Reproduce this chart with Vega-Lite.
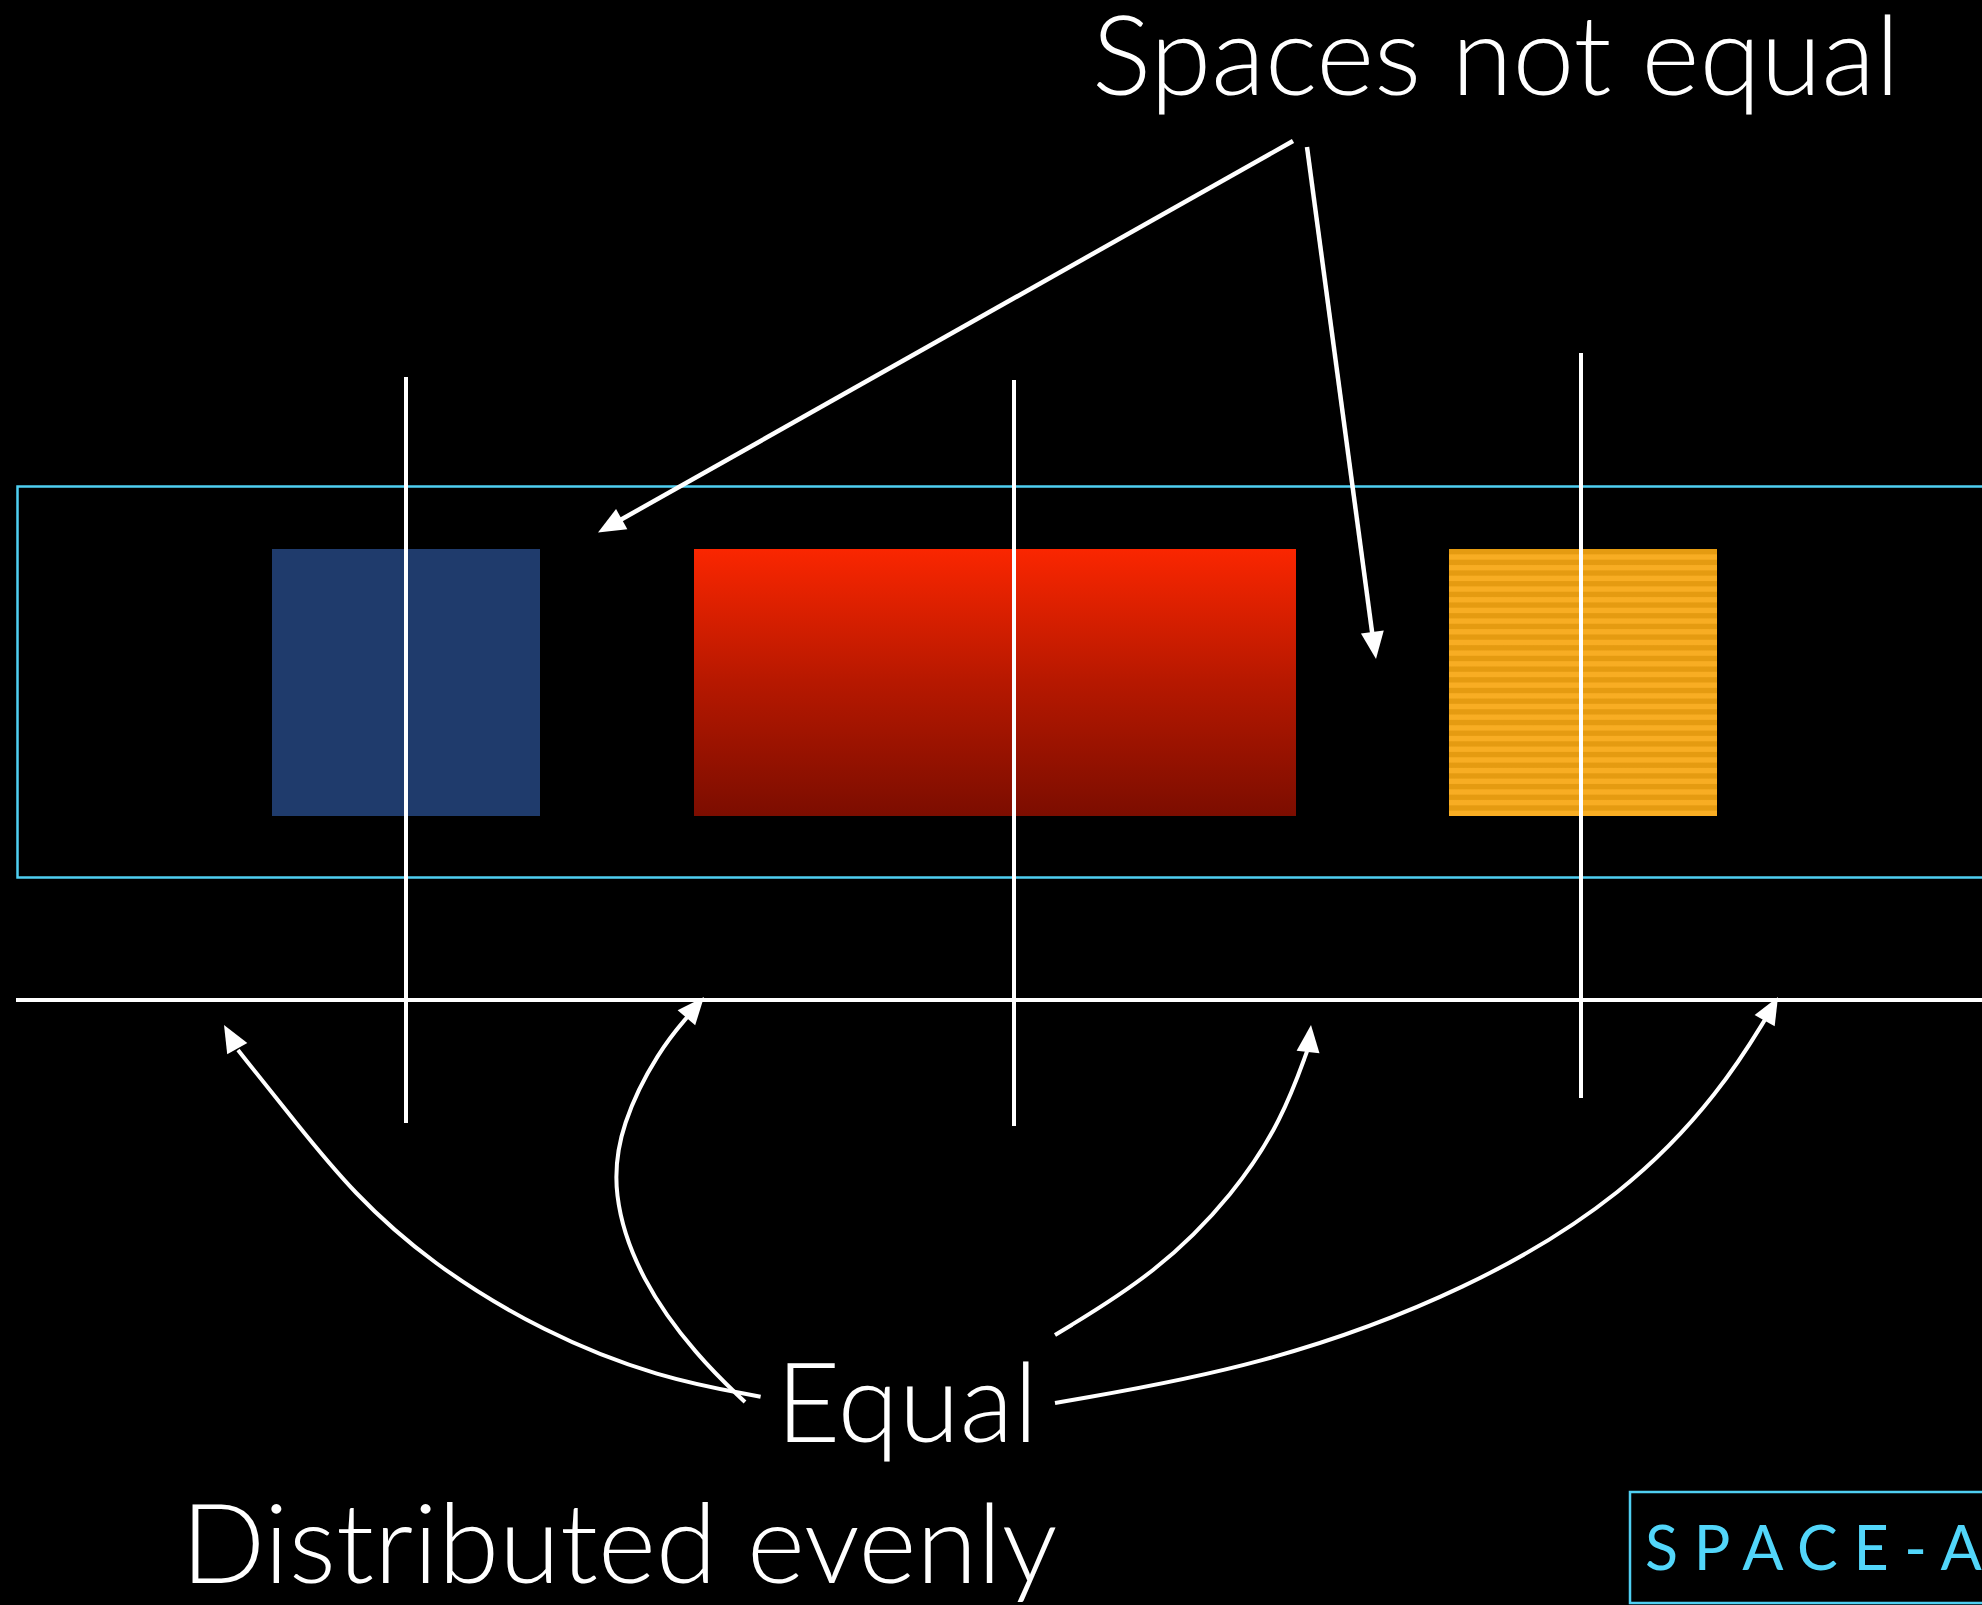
{
  "$schema": "https://vega.github.io/schema/vega-lite/v6.json",
  "width": 1982,
  "height": 1605,
  "autosize": {"type": "none"},
  "padding": 0,
  "background": "#000000",
  "config": {"view": {"stroke": null}},
  "datasets": {
    "frames": [
      {"name": "group", "x": 17.5, "x2": 2010, "y": 486.5, "y2": 877.5},
      {"name": "label", "x": 1630, "x2": 2010, "y": 1492, "y2": 1603}
    ],
    "blue": [{"name": "blue", "x": 272, "x2": 540, "y": 549, "y2": 816}],
    "red": [{"name": "red", "x": 694, "x2": 1296, "y": 549, "y2": 816}],
    "orange": [{"name": "orange", "x": 1449, "x2": 1717, "y": 549, "y2": 816}],
    "guides": [
      {"name": "v1", "x": 406, "x2": 406, "y": 377, "y2": 1123},
      {"name": "v2", "x": 1014, "x2": 1014, "y": 380, "y2": 1126},
      {"name": "v3", "x": 1581, "x2": 1581, "y": 353, "y2": 1098},
      {"name": "base", "x": 16, "x2": 2010, "y": 1000, "y2": 1000}
    ],
    "pointers": [
      {"name": "a1", "x": 1293, "x2": 615, "y": 141, "y2": 523},
      {"name": "a2", "x": 1307, "x2": 1373, "y": 147, "y2": 639}
    ],
    "curves": [
      {"curve": "A", "i": 0, "x": 760.6, "y": 1396.7},
      {"curve": "A", "i": 1, "x": 659, "y": 1378},
      {"curve": "A", "i": 2, "x": 544, "y": 1333},
      {"curve": "A", "i": 3, "x": 430, "y": 1263},
      {"curve": "A", "i": 4, "x": 353, "y": 1193},
      {"curve": "A", "i": 5, "x": 296, "y": 1123},
      {"curve": "A", "i": 6, "x": 238, "y": 1050},
      {"curve": "B", "i": 0, "x": 745, "y": 1402},
      {"curve": "B", "i": 1, "x": 697.5, "y": 1357},
      {"curve": "B", "i": 2, "x": 640, "y": 1280},
      {"curve": "B", "i": 3, "x": 611, "y": 1193},
      {"curve": "B", "i": 4, "x": 621, "y": 1123},
      {"curve": "B", "i": 5, "x": 659, "y": 1050},
      {"curve": "B", "i": 6, "x": 689, "y": 1015},
      {"curve": "C", "i": 0, "x": 1055, "y": 1335},
      {"curve": "C", "i": 1, "x": 1157, "y": 1273},
      {"curve": "C", "i": 2, "x": 1235, "y": 1193},
      {"curve": "C", "i": 3, "x": 1282, "y": 1120},
      {"curve": "C", "i": 4, "x": 1308.6, "y": 1047},
      {"curve": "D", "i": 0, "x": 1055, "y": 1403},
      {"curve": "D", "i": 1, "x": 1261.5, "y": 1367},
      {"curve": "D", "i": 2, "x": 1471, "y": 1290},
      {"curve": "D", "i": 3, "x": 1627.6, "y": 1193},
      {"curve": "D", "i": 4, "x": 1722, "y": 1090},
      {"curve": "D", "i": 5, "x": 1769, "y": 1013}
    ],
    "heads": [
      {"name": "a1", "x": 598, "y": 532.5, "angle": 240.6},
      {"name": "a2", "x": 1376, "y": 659, "angle": 172.3},
      {"name": "A", "x": 224, "y": 1025, "angle": 330.8},
      {"name": "B", "x": 704, "y": 997, "angle": 40.3},
      {"name": "C", "x": 1311, "y": 1025, "angle": 6.2},
      {"name": "D", "x": 1778, "y": 997, "angle": 29.4}
    ],
    "labels": [
      {"text": "Spaces not equal", "x": 1092, "y": 95},
      {"text": "Equal", "x": 776, "y": 1442},
      {"text": "Distributed evenly", "x": 181, "y": 1583}
    ],
    "tag": [{"text": "S P A C E - A", "x": 1645, "y": 1570}]
  },
  "layer": [
    {
      "data": {"name": "blue"},
      "mark": {"type": "rect", "fill": "#1F3B6C"},
      "encoding": {
        "x": {"field": "x", "type": "quantitative", "scale": {"domain": [0, 1982], "nice": false, "zero": false}, "axis": null},
        "x2": {"field": "x2"},
        "y": {"field": "y", "type": "quantitative", "scale": {"domain": [0, 1605], "nice": false, "zero": false, "reverse": true}, "axis": null},
        "y2": {"field": "y2"}
      }
    },
    {
      "data": {"name": "red"},
      "mark": {"type": "rect", "fill": {"gradient": "linear", "x1": 0, "y1": 0, "x2": 0, "y2": 1, "stops": [
        {"offset": 0, "color": "#FA2600"},
        {"offset": 0.5, "color": "#B61800"},
        {"offset": 1, "color": "#7C0D00"}
      ]}},
      "encoding": {
        "x": {"field": "x", "type": "quantitative", "scale": {"domain": [0, 1982], "nice": false, "zero": false}, "axis": null},
        "x2": {"field": "x2"},
        "y": {"field": "y", "type": "quantitative", "scale": {"domain": [0, 1605], "nice": false, "zero": false, "reverse": true}, "axis": null},
        "y2": {"field": "y2"}
      }
    },
    {
      "data": {"name": "orange"},
      "mark": {"type": "rect", "fill": {"gradient": "linear", "x1": 0, "y1": 0, "x2": 0, "y2": 1, "stops": [
        {"offset": 0, "color": "#E59B11"},
        {"offset": 0.018, "color": "#E59B11"}, {"offset": 0.022, "color": "#F8AD23"}, {"offset": 0.038, "color": "#F8AD23"}, {"offset": 0.042, "color": "#E59B11"},
        {"offset": 0.058, "color": "#E59B11"}, {"offset": 0.062, "color": "#F8AD23"}, {"offset": 0.078, "color": "#F8AD23"}, {"offset": 0.082, "color": "#E59B11"},
        {"offset": 0.098, "color": "#E59B11"}, {"offset": 0.102, "color": "#F8AD23"}, {"offset": 0.118, "color": "#F8AD23"}, {"offset": 0.122, "color": "#E59B11"},
        {"offset": 0.138, "color": "#E59B11"}, {"offset": 0.142, "color": "#F8AD23"}, {"offset": 0.158, "color": "#F8AD23"}, {"offset": 0.162, "color": "#E59B11"},
        {"offset": 0.178, "color": "#E59B11"}, {"offset": 0.182, "color": "#F8AD23"}, {"offset": 0.198, "color": "#F8AD23"}, {"offset": 0.202, "color": "#E59B11"},
        {"offset": 0.218, "color": "#E59B11"}, {"offset": 0.222, "color": "#F8AD23"}, {"offset": 0.238, "color": "#F8AD23"}, {"offset": 0.242, "color": "#E59B11"},
        {"offset": 0.258, "color": "#E59B11"}, {"offset": 0.262, "color": "#F8AD23"}, {"offset": 0.278, "color": "#F8AD23"}, {"offset": 0.282, "color": "#E59B11"},
        {"offset": 0.298, "color": "#E59B11"}, {"offset": 0.302, "color": "#F8AD23"}, {"offset": 0.318, "color": "#F8AD23"}, {"offset": 0.322, "color": "#E59B11"},
        {"offset": 0.338, "color": "#E59B11"}, {"offset": 0.342, "color": "#F8AD23"}, {"offset": 0.358, "color": "#F8AD23"}, {"offset": 0.362, "color": "#E59B11"},
        {"offset": 0.378, "color": "#E59B11"}, {"offset": 0.382, "color": "#F8AD23"}, {"offset": 0.398, "color": "#F8AD23"}, {"offset": 0.402, "color": "#E59B11"},
        {"offset": 0.418, "color": "#E59B11"}, {"offset": 0.422, "color": "#F8AD23"}, {"offset": 0.438, "color": "#F8AD23"}, {"offset": 0.442, "color": "#E59B11"},
        {"offset": 0.458, "color": "#E59B11"}, {"offset": 0.462, "color": "#F8AD23"}, {"offset": 0.478, "color": "#F8AD23"}, {"offset": 0.482, "color": "#E59B11"},
        {"offset": 0.498, "color": "#E59B11"}, {"offset": 0.502, "color": "#F8AD23"}, {"offset": 0.518, "color": "#F8AD23"}, {"offset": 0.522, "color": "#E59B11"},
        {"offset": 0.538, "color": "#E59B11"}, {"offset": 0.542, "color": "#F8AD23"}, {"offset": 0.558, "color": "#F8AD23"}, {"offset": 0.562, "color": "#E59B11"},
        {"offset": 0.578, "color": "#E59B11"}, {"offset": 0.582, "color": "#F8AD23"}, {"offset": 0.598, "color": "#F8AD23"}, {"offset": 0.602, "color": "#E59B11"},
        {"offset": 0.618, "color": "#E59B11"}, {"offset": 0.622, "color": "#F8AD23"}, {"offset": 0.638, "color": "#F8AD23"}, {"offset": 0.642, "color": "#E59B11"},
        {"offset": 0.658, "color": "#E59B11"}, {"offset": 0.662, "color": "#F8AD23"}, {"offset": 0.678, "color": "#F8AD23"}, {"offset": 0.682, "color": "#E59B11"},
        {"offset": 0.698, "color": "#E59B11"}, {"offset": 0.702, "color": "#F8AD23"}, {"offset": 0.718, "color": "#F8AD23"}, {"offset": 0.722, "color": "#E59B11"},
        {"offset": 0.738, "color": "#E59B11"}, {"offset": 0.742, "color": "#F8AD23"}, {"offset": 0.758, "color": "#F8AD23"}, {"offset": 0.762, "color": "#E59B11"},
        {"offset": 0.778, "color": "#E59B11"}, {"offset": 0.782, "color": "#F8AD23"}, {"offset": 0.798, "color": "#F8AD23"}, {"offset": 0.802, "color": "#E59B11"},
        {"offset": 0.818, "color": "#E59B11"}, {"offset": 0.822, "color": "#F8AD23"}, {"offset": 0.838, "color": "#F8AD23"}, {"offset": 0.842, "color": "#E59B11"},
        {"offset": 0.858, "color": "#E59B11"}, {"offset": 0.862, "color": "#F8AD23"}, {"offset": 0.878, "color": "#F8AD23"}, {"offset": 0.882, "color": "#E59B11"},
        {"offset": 0.898, "color": "#E59B11"}, {"offset": 0.902, "color": "#F8AD23"}, {"offset": 0.918, "color": "#F8AD23"}, {"offset": 0.922, "color": "#E59B11"},
        {"offset": 0.938, "color": "#E59B11"}, {"offset": 0.942, "color": "#F8AD23"}, {"offset": 0.958, "color": "#F8AD23"}, {"offset": 0.962, "color": "#E59B11"},
        {"offset": 0.978, "color": "#E59B11"}, {"offset": 0.982, "color": "#F8AD23"}, {"offset": 1, "color": "#F8AD23"}
      ]}},
      "encoding": {
        "x": {"field": "x", "type": "quantitative", "scale": {"domain": [0, 1982], "nice": false, "zero": false}, "axis": null},
        "x2": {"field": "x2"},
        "y": {"field": "y", "type": "quantitative", "scale": {"domain": [0, 1605], "nice": false, "zero": false, "reverse": true}, "axis": null},
        "y2": {"field": "y2"}
      }
    },
    {
      "data": {"name": "frames"},
      "mark": {"type": "rect", "fill": null, "filled": false, "stroke": "#4FCFF2", "strokeWidth": 2.5},
      "encoding": {
        "x": {"field": "x", "type": "quantitative", "scale": {"domain": [0, 1982], "nice": false, "zero": false}, "axis": null},
        "x2": {"field": "x2"},
        "y": {"field": "y", "type": "quantitative", "scale": {"domain": [0, 1605], "nice": false, "zero": false, "reverse": true}, "axis": null},
        "y2": {"field": "y2"}
      }
    },
    {
      "data": {"name": "guides"},
      "mark": {"type": "rule", "color": "#FFFFFF", "strokeWidth": 4},
      "encoding": {
        "x": {"field": "x", "type": "quantitative", "scale": {"domain": [0, 1982], "nice": false, "zero": false}, "axis": null},
        "x2": {"field": "x2"},
        "y": {"field": "y", "type": "quantitative", "scale": {"domain": [0, 1605], "nice": false, "zero": false, "reverse": true}, "axis": null},
        "y2": {"field": "y2"}
      }
    },
    {
      "data": {"name": "pointers"},
      "mark": {"type": "rule", "color": "#FFFFFF", "strokeWidth": 4.5},
      "encoding": {
        "x": {"field": "x", "type": "quantitative", "scale": {"domain": [0, 1982], "nice": false, "zero": false}, "axis": null},
        "x2": {"field": "x2"},
        "y": {"field": "y", "type": "quantitative", "scale": {"domain": [0, 1605], "nice": false, "zero": false, "reverse": true}, "axis": null},
        "y2": {"field": "y2"}
      }
    },
    {
      "data": {"name": "curves"},
      "mark": {"type": "line", "color": "#FFFFFF", "strokeWidth": 4, "interpolate": "basis"},
      "encoding": {
        "x": {"field": "x", "type": "quantitative", "scale": {"domain": [0, 1982], "nice": false, "zero": false}, "axis": null},
        "y": {"field": "y", "type": "quantitative", "scale": {"domain": [0, 1605], "nice": false, "zero": false, "reverse": true}, "axis": null},
        "detail": {"field": "curve", "type": "nominal"},
        "order": {"field": "i", "type": "quantitative"}
      }
    },
    {
      "data": {"name": "heads"},
      "mark": {"type": "point", "shape": "M0,0L0.72,1.7L-0.72,1.7Z", "filled": true, "color": "#FFFFFF", "opacity": 1, "size": 1024, "strokeWidth": 0},
      "encoding": {
        "x": {"field": "x", "type": "quantitative", "scale": {"domain": [0, 1982], "nice": false, "zero": false}, "axis": null},
        "y": {"field": "y", "type": "quantitative", "scale": {"domain": [0, 1605], "nice": false, "zero": false, "reverse": true}, "axis": null},
        "angle": {"field": "angle", "type": "quantitative", "scale": null}
      }
    },
    {
      "data": {"name": "labels"},
      "mark": {"type": "text", "color": "#FFFFFF", "font": "Lato", "fontWeight": 300, "fontSize": 111, "align": "left", "baseline": "alphabetic"},
      "encoding": {
        "x": {"field": "x", "type": "quantitative", "scale": {"domain": [0, 1982], "nice": false, "zero": false}, "axis": null},
        "y": {"field": "y", "type": "quantitative", "scale": {"domain": [0, 1605], "nice": false, "zero": false, "reverse": true}, "axis": null},
        "text": {"field": "text", "type": "nominal"}
      }
    },
    {
      "data": {"name": "tag"},
      "mark": {"type": "text", "color": "#52D6FA", "font": "Lato", "fontWeight": 400, "fontSize": 61, "align": "left", "baseline": "alphabetic"},
      "encoding": {
        "x": {"field": "x", "type": "quantitative", "scale": {"domain": [0, 1982], "nice": false, "zero": false}, "axis": null},
        "y": {"field": "y", "type": "quantitative", "scale": {"domain": [0, 1605], "nice": false, "zero": false, "reverse": true}, "axis": null},
        "text": {"field": "text", "type": "nominal"}
      }
    }
  ]
}
